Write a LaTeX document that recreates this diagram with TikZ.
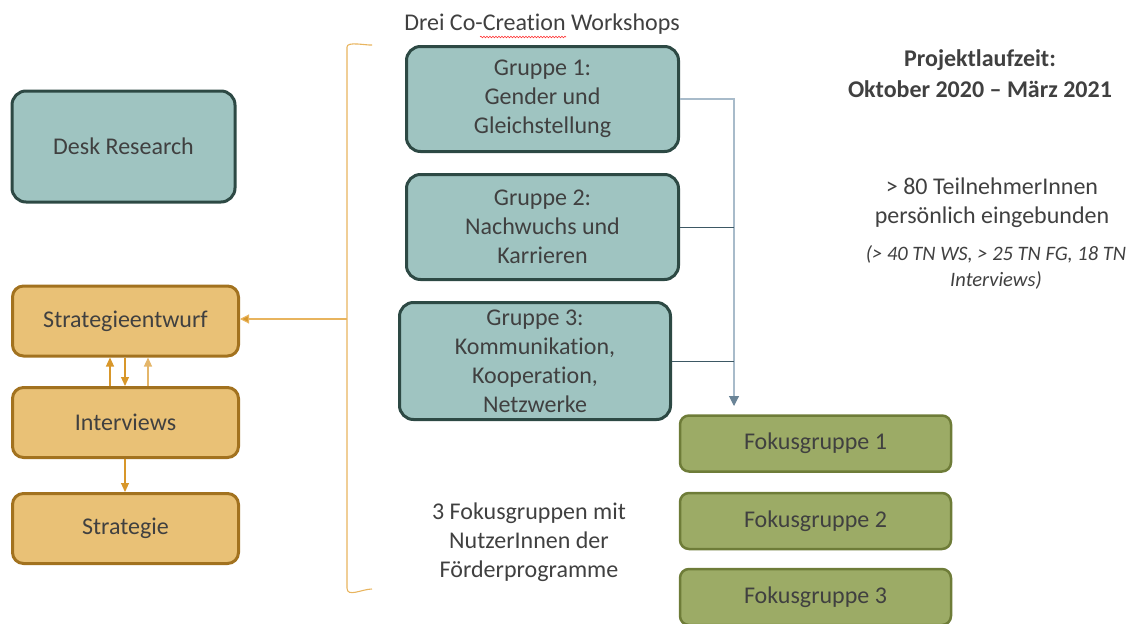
\documentclass[tikz,border=0pt]{standalone}
\usepackage{fontspec}
\setmainfont[Ligatures=NoCommon]{Carlito}
\usetikzlibrary{arrows.meta,decorations.pathmorphing}

\definecolor{txt}{HTML}{404040}
\definecolor{tealfill}{HTML}{9FC4C1}
\definecolor{tealline}{HTML}{2D4944}
\definecolor{orfill}{HTML}{E9C176}
\definecolor{orline}{HTML}{A2721F}
\definecolor{olfill}{HTML}{9CAB66}
\definecolor{olline}{HTML}{6E7C38}
\definecolor{brk}{HTML}{E8B45E}
\definecolor{orarrow}{HTML}{D8972A}
\definecolor{busl}{HTML}{A8BBCA}
\definecolor{busd}{HTML}{3D5864}
\definecolor{bustip}{HTML}{6A8497}

\tikzset{
  base/.style={draw, line width=3pt, align=center, text=txt,
    font=\fontsize{24}{29}\selectfont, inner sep=0pt},
  teal/.style={base, fill=tealfill, draw=tealline, rounded corners=14pt},
  orbox/.style={base, fill=orfill, draw=orline, rounded corners=11pt,
    minimum width=226pt, minimum height=70pt},
  olbox/.style={base, fill=olfill, draw=olline, line width=2.5pt, rounded corners=9pt,
    minimum width=271pt, minimum height=56pt},
  label/.style={text=txt, align=center, font=\fontsize{24}{29}\selectfont},
  orarr/.style={draw=orarrow, line width=1.1pt, -{Triangle[width=8pt,length=9pt]}},
}

\begin{document}
\begin{tikzpicture}[x=1pt,y=-1pt]
\useasboundingbox (0,0) rectangle (1133,624);

% left column
\node[teal, minimum width=223pt, minimum height=111pt] (desk) at (123.5,146.5) {Desk Research};
\node[orbox] (se) at (125.5,321) {Strategieentwurf};
\node[orbox] (iv) at (125.5,422.5) {Interviews};
\node[orbox] (st) at (125.5,528.5) {Strategie};

% workshop groups
\node[label] (title) at (542,24) {Drei Co-Creation Workshops};
\draw[red!80, line width=0.6pt, decorate, decoration={snake, amplitude=0.8pt, segment length=3pt}]
  (480,37) -- (566,37);
\node[teal, minimum width=272pt, minimum height=105pt] (g1) at (542.5,99) {Gruppe 1:\\Gender und\\Gleichstellung};
\node[teal, minimum width=272pt, minimum height=105pt] (g2) at (542.5,227) {Gruppe 2:\\Nachwuchs und\\Karrieren};
\node[teal, minimum width=271pt, minimum height=117pt] (g3) at (535,361) {Gruppe 3:\\Kommunikation,\\Kooperation,\\Netzwerke};

% focus groups
\node[olbox] (f1) at (815.5,443.5) {Fokusgruppe 1};
\node[olbox] (f2) at (815.5,521) {Fokusgruppe 2};
\node[olbox] (f3) at (815.5,597) {Fokusgruppe 3};
\node[label] (fktext) at (529,542) {3 Fokusgruppen mit\\NutzerInnen der\\Förderprogramme};

% right-hand notes
\node[label, font=\fontsize{24}{31}\bfseries\selectfont] (dur) at (980,74) {Projektlaufzeit:\\Oktober 2020 -- März 2021};
\node[label] (tn) at (992,203) {> 80 TeilnehmerInnen\\persönlich eingebunden};
\node[label, font=\fontsize{20.5}{26}\itshape\selectfont] (tnd) at (996,267) {(> 40 TN WS, > 25 TN FG, 18 TN\\Interviews)};

% bracket gathering the workshops and focus groups
\coordinate (bt) at (347,47);
\coordinate (bm) at (347,319);
\coordinate (bb) at (347,588);
\draw[brk, line width=1.1pt] (372,45) to[out=185,in=90,looseness=0.6] (bt) -- (bb) to[out=-90,in=180] (372,589);
\draw[brk, line width=1.1pt, -{Triangle[width=9pt,length=9pt,fill=orarrow]}] (bm) -- (bm -| se.east);

% feedback loop between draft and interviews
\coordinate (xa) at (110,0);
\coordinate (xb) at (125,0);
\coordinate (xc) at (148,0);
\draw[orarr] (iv.north -| xa) -- (se.south -| xa);
\draw[orarr] (se.south -| xb) -- (iv.north -| xb);
\draw[orarr, draw=orarrow!70] (iv.north -| xc) -- (se.south -| xc);
\draw[orarr] (iv.south -| xb) -- (st.north -| xb);

% bus from the workshops to the focus groups
\coordinate (bus) at (734,406);
\draw[busl, line width=1.1pt, -{Triangle[width=10pt,length=10pt,fill=bustip,color=bustip]}] (g1.east) -| (bus);
\draw[busd, line width=1pt] (g2.east) -- (g2.east -| bus);
\draw[busd, line width=1pt] (g3.east) -- (g3.east -| bus);
\end{tikzpicture}
\end{document}
